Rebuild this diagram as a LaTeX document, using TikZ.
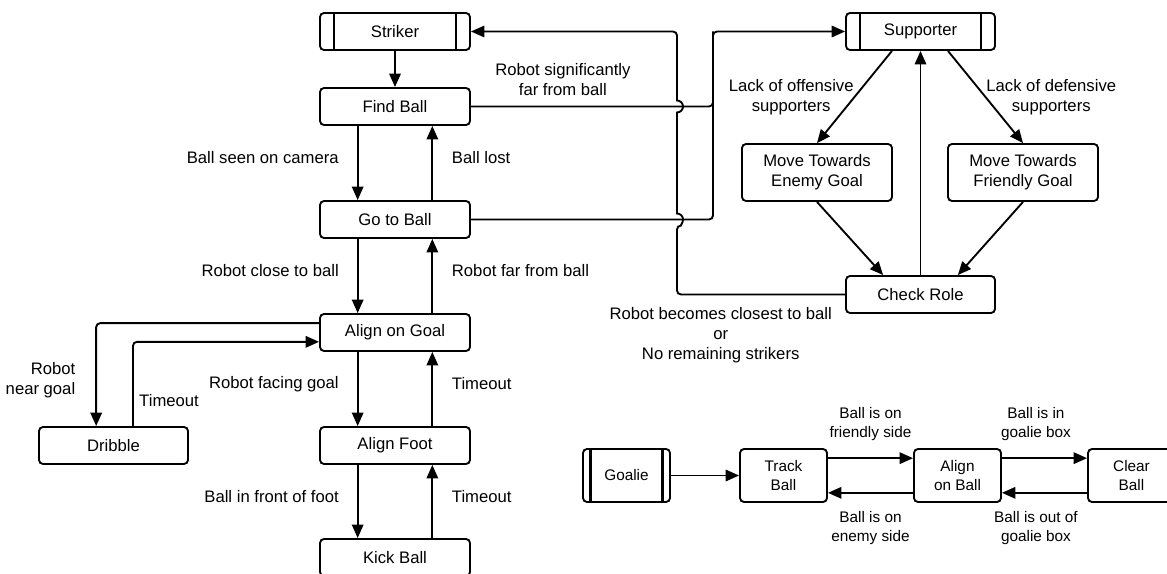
\documentclass[tikz,border=0pt]{standalone}
\usepackage{fontspec}
\setmainfont{Liberation Sans}
\usepackage{tikz}
\usetikzlibrary{arrows.meta}

\tikzset{
  state/.style={draw, line width=1.4pt, rounded corners=3pt, inner sep=0pt, align=center,
    minimum width=112.5pt, minimum height=27.75pt, font=\fontsize{12.5}{15}\selectfont},
  tall/.style={minimum height=42.75pt},
  small/.style={minimum width=65.25pt, minimum height=39.75pt, font=\fontsize{11.5}{14}\selectfont},
  trans/.style={line width=1.4pt, rounded corners=3pt, -{Triangle[length=10pt,width=8.5pt]}},
  lbl/.style={inner sep=0pt, align=center, font=\fontsize{12.5}{15}\selectfont},
  slbl/.style={lbl, font=\fontsize{11.5}{14}\selectfont}
}

\begin{document}
\begin{tikzpicture}[x=0.75pt, y=-0.75pt]
\useasboundingbox (0,0) rectangle (1167,574);

            %striker
            \node[state] (striker) at (395,31.5) {Striker};
            \node[state] (findball) at (395,106.5) {Find Ball};
            \node[state] (gotoball) at (395,219.5) {Go to Ball};
            \node[state] (aligngoal) at (395,332.5) {Align on Goal};
            \node[state] (alignfoot) at (395,445.5) {Align Foot};
            \node[state] (kickball) at (395,557.5) {Kick Ball};
            \node[state, minimum width=111.75pt] (dribble) at (113.5,445.5) {Dribble};

            %supporter
            \node[state, minimum width=111.75pt] (supporter) at (920.5,31.5) {Supporter};
            \node[state, tall] (enemy) at (817,172.5) {Move Towards\\Enemy Goal};
            \node[state, tall] (friendly) at (1023,172.5) {Move Towards\\Friendly Goal};
            \node[state, minimum width=111.75pt] (checkrole) at (920.5,294.5) {Check Role};

            %goalie
            \node[state, small] (goalie) at (626.5,475.5) {Goalie};
            \node[state, small] (trackball) at (783.5,475.5) {Track\\Ball};
            \node[state, small] (alignball) at (957.5,475.5) {Align\\on Ball};
            \node[state, small] (clearball) at (1131.5,475.5) {Clear\\Ball};

            %role bars
            \foreach \n/\d in {striker/11.25pt, supporter/11.25pt, goalie/6.5pt}
                \draw[line width=2pt] ([xshift=\d]\n.north west) -- ([xshift=\d]\n.south west)
                    ([xshift=-\d]\n.north east) -- ([xshift=-\d]\n.south east);

            \draw[trans] (striker) -- (findball);
            \foreach \a/\b/\dn/\up in {findball/gotoball/{Ball seen on camera}/{Ball lost},
                gotoball/aligngoal/{Robot close to ball}/{Robot far from ball},
                aligngoal/alignfoot/{Robot facing goal}/Timeout,
                alignfoot/kickball/{Ball in front of foot}/Timeout}
            {
                \draw[trans] ([xshift=-28pt]\a.south) -- node[lbl, pos=.43, left=13.5pt] {\dn} ([xshift=-28pt]\b.north);
                \draw[trans] ([xshift=28pt]\b.north) -- node[lbl, pos=.57, right=14pt] {\up} ([xshift=28pt]\a.south);
            }

            \draw[trans] ([yshift=7pt]aligngoal.west) -| node[lbl, pos=.775, left=15pt, align=right] {Robot\\near goal} ([xshift=-13pt]dribble.north);
            \draw[trans] ([xshift=14.6pt]dribble.north) |- node[lbl, pos=.15, right=4pt] {Timeout} ([yshift=-7pt]aligngoal.west);

            %to supporter
            \coordinate (jt) at (713,31.5);
            \draw[trans] (findball.east) -| node[lbl, pos=.19, yshift=20pt] {Robot significantly\\far from ball} (jt) -- (supporter.west);
            \draw[line width=1.4pt, rounded corners=3pt] (gotoball.east) -| (jt);

            %back to striker, jumps over the lines
            \draw[trans] (checkrole.west) -| node[lbl, pos=.37, yshift=-30.5pt] {Robot becomes closest to ball\\or\\No remaining strikers} (677,225.5)
                [sharp corners] arc[start angle=-90, end angle=90, radius=4.5pt] -- (677,112.5)
                arc[start angle=-90, end angle=90, radius=4.5pt] [rounded corners=3pt] -- (677,31.5) -- (striker.east);

            \draw[trans] ([xshift=-21.4pt]supporter.south) -- node[lbl, anchor=east] {Lack of offensive\\supporters} (enemy.north);
            \draw[trans] ([xshift=20.6pt]supporter.south) -- node[lbl, anchor=west] {Lack of defensive\\supporters} (friendly.north);
            \draw[trans] (enemy.south) -- ([xshift=-28pt]checkrole.north);
            \draw[trans] (friendly.south) -- ([xshift=28pt]checkrole.north);
            \draw[trans] (checkrole) -- (supporter);

            %goalie
            \draw[trans] (goalie) -- (trackball);
            \draw[trans] ([yshift=13pt]trackball.east) -- node[slbl, yshift=25.5pt] {Ball is on\\friendly side} ([yshift=13pt]alignball.west);
            \draw[trans] ([yshift=-13pt]alignball.west) -- node[slbl, yshift=-26.3pt] {Ball is on\\enemy side} ([yshift=-13pt]trackball.east);
            \draw[trans] ([yshift=13pt]alignball.east) -- node[slbl, xshift=-6.4pt, yshift=25.5pt] {Ball is in\\goalie box} ([yshift=13pt]clearball.west);
            \draw[trans] ([yshift=-13pt]clearball.west) -- node[slbl, xshift=-6.4pt, yshift=-26.3pt] {Ball is out of\\goalie box} ([yshift=-13pt]alignball.east);
\end{tikzpicture}
\end{document}
